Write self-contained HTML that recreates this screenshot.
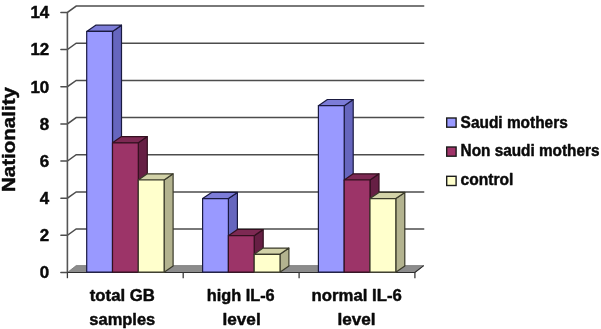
<!DOCTYPE html>
<html><head><meta charset="utf-8"><title>chart</title>
<style>html,body{margin:0;padding:0;background:#fff}body{width:601px;height:329px;overflow:hidden}</style></head>
<body>
<svg width="601" height="329" viewBox="0 0 601 329" style="display:block;filter:blur(0.3px)">
<rect width="601" height="329" fill="#fff"/>
<g stroke="#4d4d4d" stroke-width="1.5" fill="none" stroke-linecap="round">
<path d="M60.9 272.5 L67.4 272.5"/>
<path d="M60.9 235.3 L67.4 235.3 L76.2 229.0 L423.7 229.0"/>
<path d="M60.9 198.2 L67.4 198.2 L76.2 191.9 L423.7 191.9"/>
<path d="M60.9 161.0 L67.4 161.0 L76.2 154.7 L423.7 154.7"/>
<path d="M60.9 123.9 L67.4 123.9 L76.2 117.6 L423.7 117.6"/>
<path d="M60.9 86.7 L67.4 86.7 L76.2 80.4 L423.7 80.4"/>
<path d="M60.9 49.5 L67.4 49.5 L76.2 43.2 L423.7 43.2"/>
<path d="M60.9 12.4 L67.4 12.4 L76.2 6.1 L423.7 6.1"/>
</g>
<path d="M67.4 272.5 L67.4 12.4" stroke="#555" stroke-width="1.6" fill="none"/>
<path d="M67.4 272.5 L76.2 265.6 L423.7 265.6 L414.9 272.5 Z" fill="#8c8c8c" stroke="#777" stroke-width="0.8"/>
<path d="M67.4 272.5 L414.9 272.5 L423.7 265.6" fill="none" stroke="#2e2e2e" stroke-width="1.2"/>
<path d="M67.4 272.5 L67.4 278.2" stroke="#3a3a3a" stroke-width="1.3"/>
<path d="M183.2 272.5 L183.2 278.2" stroke="#3a3a3a" stroke-width="1.3"/>
<path d="M299.1 272.5 L299.1 278.2" stroke="#3a3a3a" stroke-width="1.3"/>
<path d="M414.9 272.5 L414.9 278.2" stroke="#3a3a3a" stroke-width="1.3"/>
<path d="M112.5 272.2 L121.5 266.0 L121.5 25.2 L112.5 31.4 Z" fill="#6666be" stroke="#1a1a40" stroke-width="1.2" stroke-linejoin="round"/>
<path d="M86.7 31.4 L95.7 25.2 L121.5 25.2 L112.5 31.4 Z" fill="#7c7cd8" stroke="#1a1a40" stroke-width="1.2" stroke-linejoin="round"/>
<rect x="86.7" y="31.4" width="25.8" height="240.8" fill="#9999ff" stroke="#1a1a40" stroke-width="1.2" stroke-linejoin="round"/>
<path d="M138.3 272.2 L147.3 266.0 L147.3 136.6 L138.3 142.8 Z" fill="#661f44" stroke="#33101f" stroke-width="1.2" stroke-linejoin="round"/>
<path d="M112.5 142.8 L121.5 136.6 L147.3 136.6 L138.3 142.8 Z" fill="#7d2953" stroke="#33101f" stroke-width="1.2" stroke-linejoin="round"/>
<rect x="112.5" y="142.8" width="25.8" height="129.4" fill="#9c3468" stroke="#33101f" stroke-width="1.2" stroke-linejoin="round"/>
<path d="M164.1 272.2 L173.1 266.0 L173.1 173.8 L164.1 180.0 Z" fill="#b3b38f" stroke="#3a3a2a" stroke-width="1.2" stroke-linejoin="round"/>
<path d="M138.3 180.0 L147.3 173.8 L173.1 173.8 L164.1 180.0 Z" fill="#d2d2a8" stroke="#3a3a2a" stroke-width="1.2" stroke-linejoin="round"/>
<rect x="138.3" y="180.0" width="25.8" height="92.2" fill="#ffffcc" stroke="#3a3a2a" stroke-width="1.2" stroke-linejoin="round"/>
<path d="M228.4 272.2 L237.4 266.0 L237.4 192.4 L228.4 198.6 Z" fill="#6666be" stroke="#1a1a40" stroke-width="1.2" stroke-linejoin="round"/>
<path d="M202.6 198.6 L211.6 192.4 L237.4 192.4 L228.4 198.6 Z" fill="#7c7cd8" stroke="#1a1a40" stroke-width="1.2" stroke-linejoin="round"/>
<rect x="202.6" y="198.6" width="25.8" height="73.6" fill="#9999ff" stroke="#1a1a40" stroke-width="1.2" stroke-linejoin="round"/>
<path d="M254.2 272.2 L263.2 266.0 L263.2 229.5 L254.2 235.7 Z" fill="#661f44" stroke="#33101f" stroke-width="1.2" stroke-linejoin="round"/>
<path d="M228.4 235.7 L237.4 229.5 L263.2 229.5 L254.2 235.7 Z" fill="#7d2953" stroke="#33101f" stroke-width="1.2" stroke-linejoin="round"/>
<rect x="228.4" y="235.7" width="25.8" height="36.5" fill="#9c3468" stroke="#33101f" stroke-width="1.2" stroke-linejoin="round"/>
<path d="M279.9 272.2 L288.9 266.0 L288.9 248.1 L279.9 254.3 Z" fill="#b3b38f" stroke="#3a3a2a" stroke-width="1.2" stroke-linejoin="round"/>
<path d="M254.2 254.3 L263.1 248.1 L288.9 248.1 L279.9 254.3 Z" fill="#d2d2a8" stroke="#3a3a2a" stroke-width="1.2" stroke-linejoin="round"/>
<rect x="254.2" y="254.3" width="25.8" height="17.9" fill="#ffffcc" stroke="#3a3a2a" stroke-width="1.2" stroke-linejoin="round"/>
<path d="M344.2 272.2 L353.2 266.0 L353.2 99.5 L344.2 105.7 Z" fill="#6666be" stroke="#1a1a40" stroke-width="1.2" stroke-linejoin="round"/>
<path d="M318.4 105.7 L327.4 99.5 L353.2 99.5 L344.2 105.7 Z" fill="#7c7cd8" stroke="#1a1a40" stroke-width="1.2" stroke-linejoin="round"/>
<rect x="318.4" y="105.7" width="25.8" height="166.5" fill="#9999ff" stroke="#1a1a40" stroke-width="1.2" stroke-linejoin="round"/>
<path d="M370.0 272.2 L379.0 266.0 L379.0 173.8 L370.0 180.0 Z" fill="#661f44" stroke="#33101f" stroke-width="1.2" stroke-linejoin="round"/>
<path d="M344.2 180.0 L353.2 173.8 L379.0 173.8 L370.0 180.0 Z" fill="#7d2953" stroke="#33101f" stroke-width="1.2" stroke-linejoin="round"/>
<rect x="344.2" y="180.0" width="25.8" height="92.2" fill="#9c3468" stroke="#33101f" stroke-width="1.2" stroke-linejoin="round"/>
<path d="M395.8 272.2 L404.8 266.0 L404.8 192.4 L395.8 198.6 Z" fill="#b3b38f" stroke="#3a3a2a" stroke-width="1.2" stroke-linejoin="round"/>
<path d="M370.0 198.6 L379.0 192.4 L404.8 192.4 L395.8 198.6 Z" fill="#d2d2a8" stroke="#3a3a2a" stroke-width="1.2" stroke-linejoin="round"/>
<rect x="370.0" y="198.6" width="25.8" height="73.6" fill="#ffffcc" stroke="#3a3a2a" stroke-width="1.2" stroke-linejoin="round"/>
<g font-family="'Liberation Sans', sans-serif" font-weight="bold" fill="#0a0a0a" stroke="#0a0a0a" stroke-width="0.45" stroke-linejoin="round" style="opacity:0.999">
<text x="49.2" y="278.3" font-size="16" text-anchor="end" textLength="9.4" lengthAdjust="spacingAndGlyphs">0</text>
<text x="49.2" y="241.1" font-size="16" text-anchor="end" textLength="9.4" lengthAdjust="spacingAndGlyphs">2</text>
<text x="49.2" y="204.0" font-size="16" text-anchor="end" textLength="9.4" lengthAdjust="spacingAndGlyphs">4</text>
<text x="49.2" y="166.8" font-size="16" text-anchor="end" textLength="9.4" lengthAdjust="spacingAndGlyphs">6</text>
<text x="49.2" y="129.7" font-size="16" text-anchor="end" textLength="9.4" lengthAdjust="spacingAndGlyphs">8</text>
<text x="49.2" y="92.5" font-size="16" text-anchor="end" textLength="18.8" lengthAdjust="spacingAndGlyphs">10</text>
<text x="49.2" y="55.3" font-size="16" text-anchor="end" textLength="18.8" lengthAdjust="spacingAndGlyphs">12</text>
<text x="49.2" y="18.2" font-size="16" text-anchor="end" textLength="18.8" lengthAdjust="spacingAndGlyphs">14</text>
<text transform="translate(14.8,139.6) rotate(-90)" font-size="18.7" text-anchor="middle" textLength="105" lengthAdjust="spacingAndGlyphs">Nationality</text>
<text x="122.3" y="301.4" font-size="16.6" text-anchor="middle" textLength="65" lengthAdjust="spacingAndGlyphs">total GB</text>
<text x="122.3" y="324.9" font-size="16.6" text-anchor="middle" textLength="66" lengthAdjust="spacingAndGlyphs">samples</text>
<text x="240.7" y="301.4" font-size="16.6" text-anchor="middle" textLength="68" lengthAdjust="spacingAndGlyphs">high IL-6</text>
<text x="241.6" y="324.9" font-size="16.6" text-anchor="middle" textLength="38.3" lengthAdjust="spacingAndGlyphs">level</text>
<text x="356.7" y="301.4" font-size="16.6" text-anchor="middle" textLength="90.2" lengthAdjust="spacingAndGlyphs">normal IL-6</text>
<text x="356.5" y="324.9" font-size="16.6" text-anchor="middle" textLength="38.2" lengthAdjust="spacingAndGlyphs">level</text>
<rect x="446.7" y="118.0" width="9.4" height="9.2" fill="#9999ff" stroke="#1c1c1c" stroke-width="1.4" stroke-linejoin="miter"/>
<text x="460.6" y="127.8" font-size="15.8" textLength="107.2" lengthAdjust="spacingAndGlyphs">Saudi mothers</text>
<rect x="446.7" y="147.0" width="9.4" height="9.2" fill="#a03369" stroke="#1c1c1c" stroke-width="1.4" stroke-linejoin="miter"/>
<text x="460.6" y="155.8" font-size="15.8" textLength="138.9" lengthAdjust="spacingAndGlyphs">Non saudi mothers</text>
<rect x="446.7" y="176.3" width="9.4" height="9.2" fill="#ffffcc" stroke="#1c1c1c" stroke-width="1.4" stroke-linejoin="miter"/>
<text x="460.6" y="185.3" font-size="15.8" textLength="52.8" lengthAdjust="spacingAndGlyphs">control</text>
</g>
</svg>
</body></html>
